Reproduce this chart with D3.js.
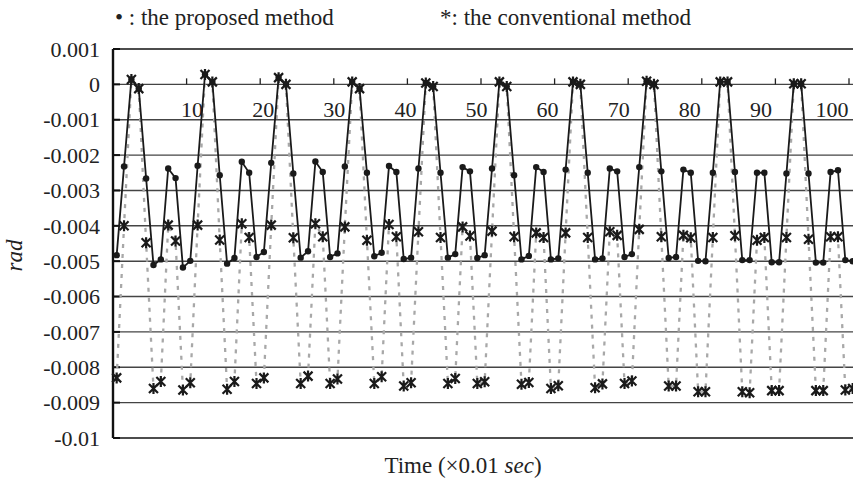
<html lang="en">
  <head>
    <title>proposed vs conventional</title>
    <script src="https://d3js.org/d3.v7.min.js"></script>
    <style>
      body { margin: 0; background: #fff; }
      text { font-family: 'Liberation Serif', 'Times New Roman', serif; fill: #222; }
    </style>
  </head>
  <body>
    <svg id="chart" width="853" height="484"></svg>
    <script>

      // samples 1..101 (x axis labelled 0..100, x0.01 sec)
      const proposed = [
        -0.00483, -0.00232, 0.00014, -0.00012, -0.00266, -0.00511, -0.00495, -0.00238, -0.00265, -0.00518,
        -0.00499, -0.00230, 0.00028, 0.00007, -0.00257, -0.00507, -0.00491, -0.00219, -0.00250, -0.00488,
        -0.00474, -0.00222, 0.00019, 0.00000, -0.00252, -0.00490, -0.00472, -0.00218, -0.00248, -0.00488,
        -0.00478, -0.00232, 0.00007, -0.00012, -0.00250, -0.00486, -0.00476, -0.00231, -0.00248, -0.00494,
        -0.00490, -0.00238, 0.00004, -0.00006, -0.00250, -0.00490, -0.00480, -0.00234, -0.00246, -0.00491,
        -0.00483, -0.00238, 0.00007, -0.00006, -0.00257, -0.00495, -0.00485, -0.00234, -0.00248, -0.00495,
        -0.00492, -0.00241, 0.00007, 0.00000, -0.00250, -0.00495, -0.00492, -0.00238, -0.00246, -0.00488,
        -0.00480, -0.00234, 0.00009, 0.00000, -0.00246, -0.00491, -0.00488, -0.00241, -0.00250, -0.00499,
        -0.00500, -0.00250, 0.00007, 0.00007, -0.00248, -0.00497, -0.00497, -0.00250, -0.00250, -0.00503,
        -0.00503, -0.00252, 0.00002, 0.00002, -0.00252, -0.00504, -0.00504, -0.00248, -0.00243, -0.00497,
        -0.00500
      ]

      const conventional = [
        -0.00830, -0.00400, 0.00014, -0.00012, -0.00448, -0.00860, -0.00840, -0.00398, -0.00443, -0.00864,
        -0.00844, -0.00398, 0.00028, 0.00007, -0.00440, -0.00862, -0.00840, -0.00394, -0.00433, -0.00846,
        -0.00830, -0.00398, 0.00019, 0.00000, -0.00434, -0.00846, -0.00825, -0.00394, -0.00431, -0.00846,
        -0.00833, -0.00403, 0.00007, -0.00012, -0.00441, -0.00846, -0.00827, -0.00396, -0.00431, -0.00853,
        -0.00844, -0.00417, 0.00004, -0.00006, -0.00433, -0.00846, -0.00832, -0.00403, -0.00429, -0.00846,
        -0.00841, -0.00415, 0.00007, -0.00006, -0.00431, -0.00848, -0.00843, -0.00420, -0.00433, -0.00860,
        -0.00852, -0.00420, 0.00007, 0.00000, -0.00433, -0.00858, -0.00847, -0.00417, -0.00427, -0.00846,
        -0.00839, -0.00410, 0.00009, 0.00000, -0.00431, -0.00853, -0.00853, -0.00427, -0.00434, -0.00869,
        -0.00869, -0.00433, 0.00007, 0.00007, -0.00428, -0.00869, -0.00872, -0.00441, -0.00433, -0.00866,
        -0.00866, -0.00433, 0.00002, 0.00002, -0.00438, -0.00866, -0.00866, -0.00431, -0.00431, -0.00864,
        -0.00860
      ]

      const yTicks = [0.001, 0, -0.001, -0.002, -0.003, -0.004, -0.005, -0.006, -0.007, -0.008, -0.009, -0.01]
      const xTickLabels = [10, 20, 30, 40, 50, 60, 70, 80, 90, 100]

      const svg = d3.select('#chart')
      const plotLeft = 113, plotTop = 49, plotBottom = 438
      const step = 7.36
      const n = proposed.length

      const x = d3.scaleBand()
        .domain(d3.range(1, n + 1))
        .range([plotLeft, plotLeft + n * step])
        .padding(0)
      const cx = k => x(k) + x.bandwidth() / 2

      const y = d3.scaleLinear().domain([-0.01, 0.001]).range([plotBottom, plotTop])

      // label positions drift a little from the tick marks in the original
      const labelX = d3.scaleLinear().domain([0, 100]).range([plotLeft + 8, plotLeft + 719])

      // grid
      svg.append('g')
        .selectAll('line')
        .data(yTicks)
        .join('line')
        .attr('x1', plotLeft).attr('x2', 853)
        .attr('y1', d => y(d)).attr('y2', d => y(d))
        .attr('stroke', d => (d === 0.001 || d === -0.01) ? '#111' : '#444')
        .attr('stroke-width', d => (d === 0.001 || d === -0.01) ? 1.7 : 1.4)

      // y axis
      svg.append('line')
        .attr('x1', plotLeft).attr('x2', plotLeft)
        .attr('y1', plotTop).attr('y2', plotBottom)
        .attr('stroke', '#111').attr('stroke-width', 2.4)

      svg.append('g')
        .selectAll('line')
        .data(yTicks)
        .join('line')
        .attr('x1', plotLeft).attr('x2', plotLeft + 7)
        .attr('y1', d => y(d)).attr('y2', d => y(d))
        .attr('stroke', '#111').attr('stroke-width', 2)

      svg.append('g')
        .selectAll('text')
        .data(yTicks)
        .join('text')
        .attr('x', plotLeft - 13)
        .attr('y', d => y(d))
        .attr('dy', '0.35em')
        .attr('text-anchor', 'end')
        .style('font-size', '22px')
        .text(d => d === 0 ? '0' : String(d))

      // x axis on the zero line
      svg.append('g')
        .selectAll('line')
        .data(d3.range(11, n + 1, 10))
        .join('line')
        .attr('x1', d => x(d)).attr('x2', d => x(d))
        .attr('y1', y(0)).attr('y2', y(0) - 6)
        .attr('stroke', '#222').attr('stroke-width', 1.3)

      svg.append('g')
        .selectAll('text')
        .data(xTickLabels)
        .join('text')
        .attr('x', d => labelX(d))
        .attr('y', y(0) + 33)
        .attr('text-anchor', 'middle')
        .style('font-size', '22px')
        .text(d => d)

      // series
      const line = vals => d3.line()
        .x((d, i) => cx(i + 1))
        .y(d => y(d))(vals)

      svg.append('path')
        .attr('d', line(conventional))
        .attr('fill', 'none')
        .attr('stroke', '#a8a8a8')
        .attr('stroke-width', 2.3)
        .attr('stroke-dasharray', '4,6')

      svg.append('path')
        .attr('d', line(proposed))
        .attr('fill', 'none')
        .attr('stroke', '#1a1a1a')
        .attr('stroke-width', 1.8)

      svg.append('g')
        .selectAll('circle')
        .data(proposed)
        .join('circle')
        .attr('cx', (d, i) => cx(i + 1))
        .attr('cy', d => y(d))
        .attr('r', 3.2)
        .attr('fill', '#1a1a1a')

      const star = 'M-4.5,-4.5L4.5,4.5M-4.5,4.5L4.5,-4.5M0,-5.5L0,5.5'
      svg.append('g')
        .selectAll('path')
        .data(conventional)
        .join('path')
        .attr('transform', (d, i) => `translate(${cx(i + 1)},${y(d)})`)
        .attr('d', star)
        .attr('stroke', '#1a1a1a')
        .attr('stroke-width', 2.2)
        .attr('fill', 'none')

      // legend text
      const legend = svg.append('text').attr('y', 25).style('font-size', '23px')
      legend.append('tspan').attr('x', 115).text('\u2022 : the proposed method')
      legend.append('tspan').attr('x', 440).text('*: the conventional method')

      // axis titles
      const xt = svg.append('text')
        .attr('x', plotLeft + (853 - plotLeft) / 2 - 20)
        .attr('y', 473)
        .attr('text-anchor', 'middle')
        .style('font-size', '23px')
      xt.append('tspan').text('Time (\u00d70.01 ')
      xt.append('tspan').style('font-style', 'italic').text('sec')
      xt.append('tspan').text(')')

      svg.append('text')
        .attr('transform', `translate(22,${(plotTop + plotBottom) / 2 + 12}) rotate(-90)`)
        .attr('text-anchor', 'middle')
        .style('font-size', '23px')
        .style('font-style', 'italic')
        .text('rad')
    </script>
  </body>
</html>
